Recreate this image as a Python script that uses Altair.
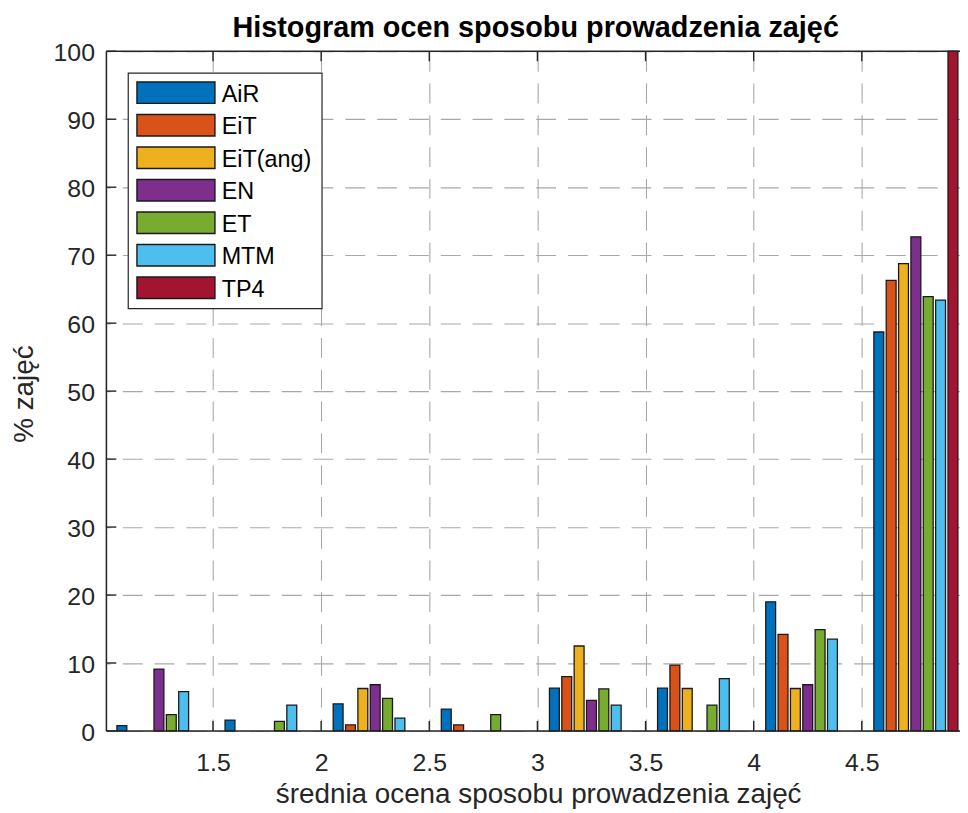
import altair as alt
import pandas as pd

# ---- data ----
series = ["AiR", "EiT", "EiT(ang)", "EN", "ET", "MTM", "TP4"]
colors = ["#0072BD", "#D95319", "#EDB120", "#7E2F8E", "#77AC30", "#4DBEEE", "#A2142F"]
bin_centers = [1.25, 1.75, 2.25, 2.75, 3.25, 3.75, 4.25, 4.75]

air = [0.8, 1.6, 4.0, 3.2, 6.3, 6.3, 19.0, 58.7]
eit = [0.0, 0.0, 0.9, 0.9, 8.0, 9.7, 14.2, 66.3]
eit_ang = [0.0, 0.0, 6.25, 0.0, 12.5, 6.25, 6.25, 68.75]
en = [9.1, 0.0, 6.8, 0.0, 4.5, 0.0, 6.8, 72.7]
et = [2.4, 1.4, 4.8, 2.4, 6.2, 3.8, 14.9, 63.9]
mtm = [5.8, 3.8, 1.9, 0.0, 3.8, 7.7, 13.5, 63.4]
tp4 = [0.0, 0.0, 0.0, 0.0, 0.0, 0.0, 0.0, 100.0]

x_tick_values = [1.5, 2.0, 2.5, 3.0, 3.5, 4.0, 4.5]
y_tick_values = [0, 10, 20, 30, 40, 50, 60, 70, 80, 90, 100]

title_text = "Histogram ocen sposobu prowadzenia zajęć"
x_title = "średnia ocena sposobu prowadzenia zajęć"
y_title = "% zajęć"

# ---- layout constants ----
W, H = 859, 684
X_DOMAIN = [1.007, 5.0]
X_RANGE = [0, 869]
FONT = "Liberation Sans, Arial, Helvetica, sans-serif"
AX = "#262626"
TICK_FS = 25

# grouped bar geometry (MATLAB style): group width 0.8*0.5, bar 0.8 of slot
n = len(series)
slot = 0.8 * 0.5 / n
bw = 0.8 * slot

all_vals = [air, eit, eit_ang, en, et, mtm, tp4]
rows = []
for i, (name, vals) in enumerate(zip(series, all_vals)):
    for c, v in zip(bin_centers, vals):
        xc = c + (i - (n - 1) / 2) * slot
        rows.append({"name": name, "v": v, "x0": xc - bw / 2, "x1": xc + bw / 2})
df = pd.DataFrame(rows)

xs = alt.Scale(domain=X_DOMAIN, range=X_RANGE, nice=False, zero=False)
ys = alt.Scale(domain=[0, 100], nice=False)
cs = alt.Scale(domain=series, range=colors)

x_axis = alt.Axis(
    values=x_tick_values, title=None, format="~g", grid=True, gridDash=[20, 12],
    gridColor="#a8a8a8", gridWidth=1.1, domain=False, ticks=False, tickSize=0,
    labelFont=FONT, labelFontSize=TICK_FS, labelColor=AX, labelPadding=20,
    labelFlush=False, labelOverlap=False)

bars = alt.Chart(df).transform_filter("datum.v > 0").mark_rect(
    stroke="#1a1a1a", strokeWidth=1.3
).encode(
    x=alt.X("x0:Q", scale=xs, axis=x_axis),
    x2="x1:Q",
    y=alt.Y("v:Q", scale=ys, axis=alt.Axis(
        values=y_tick_values, title=None, grid=True, gridDash=[20, 12],
        gridDashOffset=16, gridColor="#a8a8a8", gridWidth=1.1, domain=False,
        ticks=False, tickSize=0, labelFont=FONT, labelFontSize=TICK_FS,
        labelColor=AX, labelPadding=12, labelOffset=1.5, labelFlush=False,
        labelOverlap=False)),
    y2=alt.datum(0),
    color=alt.Color("name:N", scale=cs, legend=None),
)

# inward tick marks (MATLAB box style)
xt = pd.DataFrame({"t": x_tick_values})
yt = pd.DataFrame({"t": y_tick_values})
xt_bottom = alt.Chart(xt).mark_rule(color=AX, strokeWidth=1.4).encode(
    x=alt.X("t:Q", scale=xs, axis=x_axis), y=alt.value(H), y2=alt.value(H - 10))
xt_top = alt.Chart(xt).mark_rule(color=AX, strokeWidth=1.4).encode(
    x=alt.X("t:Q", scale=xs, axis=x_axis), y=alt.value(0), y2=alt.value(10))
yt_left = alt.Chart(yt).mark_rule(color=AX, strokeWidth=1.4).encode(
    y=alt.Y("t:Q", scale=ys, axis=None), x=alt.value(0), x2=alt.value(10))

# frame lines
frame_df = pd.DataFrame({"k": [0]})
frame_top = alt.Chart(frame_df).mark_rule(color=AX, strokeWidth=1.5).encode(
    x=alt.value(0), x2=alt.value(X_RANGE[1]), y=alt.value(0))
frame_bottom = alt.Chart(frame_df).mark_rule(color=AX, strokeWidth=1.5).encode(
    x=alt.value(0), x2=alt.value(X_RANGE[1]), y=alt.value(H))
frame_left = alt.Chart(frame_df).mark_rule(color=AX, strokeWidth=1.5).encode(
    x=alt.value(0), y=alt.value(0), y2=alt.value(H))

# legend (drawn by hand, MATLAB style)
leg_df = pd.DataFrame({"name": series, "idx": list(range(n))})
leg_ys = alt.Scale(domain=[0, n - 1], range=[41.7, 238], nice=False, zero=False)
leg_box = alt.Chart(frame_df).mark_rect(
    fill="white", stroke=AX, strokeWidth=1.2).encode(
    x=alt.value(22), x2=alt.value(217), y=alt.value(22), y2=alt.value(259))
leg_sw = alt.Chart(leg_df).mark_point(
    shape="M-1,-0.275H1V0.275H-1Z", size=6162, filled=True, opacity=1,
    stroke="#1a1a1a", strokeWidth=1.4).encode(
    x=alt.value(70),
    y=alt.Y("idx:Q", scale=leg_ys, axis=None),
    color=alt.Color("name:N", scale=cs, legend=None))
leg_tx = alt.Chart(leg_df).mark_text(
    align="left", baseline="alphabetic", dy=9, font=FONT, fontSize=23.5,
    color="#000000").encode(
    x=alt.value(116),
    y=alt.Y("idx:Q", scale=leg_ys, axis=None),
    text="name:N")

# titles as text
t_df = pd.DataFrame({"t": [title_text]})
title = alt.Chart(t_df).mark_text(
    align="center", baseline="alphabetic", font=FONT, fontSize=29,
    fontWeight="bold", color="#000000").encode(
    x=alt.value(432), y=alt.value(-14), text="t:N")
xl_df = pd.DataFrame({"t": [x_title]})
xlab = alt.Chart(xl_df).mark_text(
    align="center", baseline="alphabetic", font=FONT, fontSize=28,
    color=AX).encode(x=alt.value(435), y=alt.value(H + 72), text="t:N")
yl_df = pd.DataFrame({"t": [y_title]})
ylab = alt.Chart(yl_df).mark_text(
    align="center", baseline="alphabetic", font=FONT, fontSize=28, angle=270,
    color=AX).encode(x=alt.value(-74), y=alt.value(345), text="t:N")

chart = alt.layer(
    bars, leg_box, leg_sw, leg_tx, xt_bottom, xt_top, yt_left,
    frame_top, frame_bottom, frame_left, title, xlab, ylab
).resolve_scale(y="independent").properties(
    width=W, height=H,
    autosize=alt.AutoSizeParams(type="none"),
    padding={"left": 99, "top": 41, "right": 0, "bottom": 79},
).configure_view(stroke=None).configure(background="white")

chart.save("out.html", embed_options={"renderer": "svg", "actions": False})
